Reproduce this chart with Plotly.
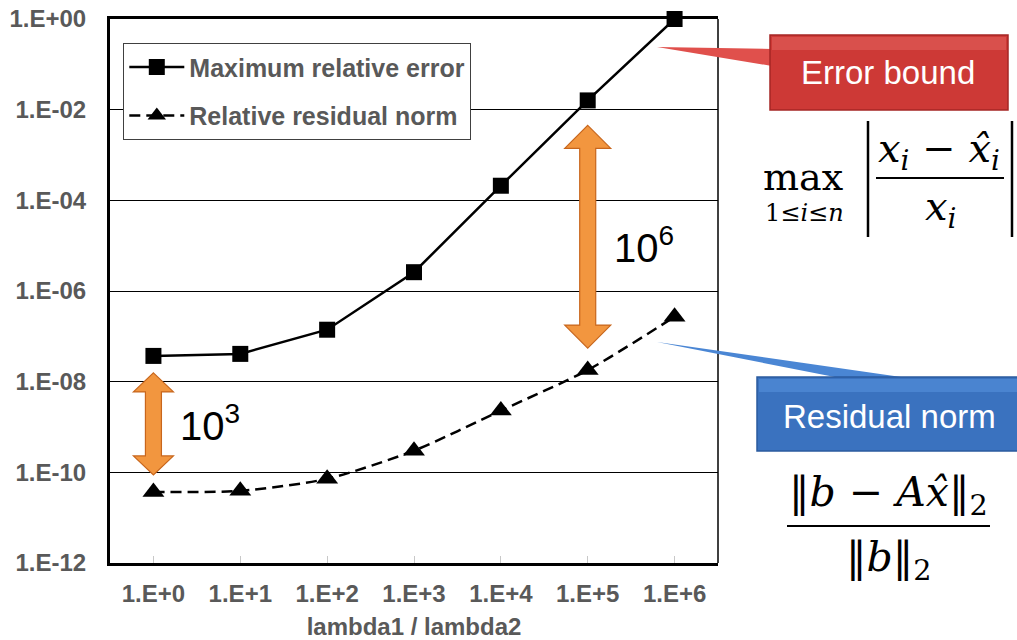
import math
import plotly.graph_objects as go

# ---------------- data ----------------
categories = ["1.E+0", "1.E+1", "1.E+2", "1.E+3", "1.E+4", "1.E+5", "1.E+6"]
max_rel_error = [3.7e-8, 4.1e-8, 1.4e-7, 2.6e-6, 2.1e-4, 1.6e-2, 1.0]
rel_residual = [3.7e-11, 3.9e-11, 7.2e-11, 3.0e-10, 2.3e-9, 1.8e-8, 2.7e-7]
y_tickvals = [1e0, 1e-2, 1e-4, 1e-6, 1e-8, 1e-10, 1e-12]
y_ticktext = ["1.E+00", "1.E-02", "1.E-04", "1.E-06", "1.E-08", "1.E-10", "1.E-12"]
series_names = ["Maximum relative error", "Relative residual norm"]
gap_labels = ["10<sup>3</sup>", "10<sup>6</sup>"]
callout_labels = ["Error bound", "Residual norm"]

# ---------------- layout geometry ----------------
W, H = 1017, 640
L, R, T, B = 110, 299, 19, 77
PW, PH = W - L - R, H - T - B
YMIN, YMAX = -12, 0


def fx(x):  # pixel x -> paper
    return (x - L) / PW


def fy(y):  # pixel y -> paper
    return 1 - (y - T) / PH


def cat_px(i):  # category index -> pixel x
    return L + (i + 0.5) * PW / len(categories)


def val_py(v):  # value -> pixel y (log axis)
    return T + (YMAX - math.log10(v)) / (YMAX - YMIN) * PH


def path(points):
    return "M " + " L ".join(f"{fx(x):.5f},{fy(y):.5f}" for x, y in points) + " Z"


def double_arrow(xc, ytop, ybot, shaft=16, head=42, hlen=22):
    pts = [
        (xc, ytop), (xc + head / 2, ytop + hlen), (xc + shaft / 2, ytop + hlen),
        (xc + shaft / 2, ybot - hlen), (xc + head / 2, ybot - hlen), (xc, ybot),
        (xc - head / 2, ybot - hlen), (xc - shaft / 2, ybot - hlen),
        (xc - shaft / 2, ytop + hlen), (xc - head / 2, ytop + hlen),
    ]
    return path(pts)


GREY = "#595959"
LAB_FONT = dict(family="Liberation Sans, Arial, sans-serif", size=24, color=GREY, weight="bold")
LEG_FONT = dict(family="Liberation Sans, Arial, sans-serif", size=25, color=GREY, weight="bold")

fig = go.Figure()
fig.add_trace(go.Scatter(
    x=categories, y=max_rel_error, mode="lines+markers", name=series_names[0],
    line=dict(color="black", width=2.5),
    marker=dict(symbol="square", size=16, color="black"),
    cliponaxis=False, legendgroup="a",
))
fig.add_trace(go.Scatter(
    x=categories, y=rel_residual, mode="lines+markers", name=series_names[1],
    line=dict(color="black", width=2.5, dash="11px,6px", shape="spline", smoothing=0.7),
    marker=dict(symbol="triangle-up", size=19, color="black"),
    cliponaxis=False, legendgroup="b",
))

shapes = []
# right border (thin)
shapes.append(dict(type="line", xref="paper", yref="paper", x0=1, x1=1, y0=0, y1=1,
                   line=dict(color="black", width=1.5), layer="above"))

ORANGE = "#f2963f"
ORANGE_EDGE = "#c8661c"
i0, i5 = 0, 5
shapes.append(dict(type="path", xref="paper", yref="paper",
                   path=double_arrow(cat_px(i0), val_py(max_rel_error[i0]) + 17,
                                     val_py(rel_residual[i0]) - 17, head=40, hlen=19),
                   fillcolor=ORANGE, line=dict(color=ORANGE_EDGE, width=1.2), layer="above"))
shapes.append(dict(type="path", xref="paper", yref="paper",
                   path=double_arrow(cat_px(i5), val_py(max_rel_error[i5]) + 25,
                                     val_py(rel_residual[i5]) - 22, head=46, hlen=23),
                   fillcolor=ORANGE, line=dict(color=ORANGE_EDGE, width=1.2), layer="above"))

RED = "#cd3936"
RED_TOP = "#d9504c"
RED_EDGE = "#a52624"
BLUE = "#3a72bf"
BLUE_TOP = "#4a84d0"
BLUE_EDGE = "#2b5b9e"
shapes.append(dict(type="path", xref="paper", yref="paper",
                   path=path([(657, 47), (772, 49), (772, 66)]),
                   fillcolor="#e0504c", line=dict(width=0), layer="above"))
shapes.append(dict(type="rect", xref="paper", yref="paper",
                   x0=fx(770), x1=fx(1008), y0=fy(110), y1=fy(35),
                   fillcolor=RED, line=dict(color=RED_EDGE, width=1.5), layer="above"))
shapes.append(dict(type="rect", xref="paper", yref="paper",
                   x0=fx(772), x1=fx(1006), y0=fy(50), y1=fy(37),
                   fillcolor=RED_TOP, line=dict(width=0), layer="above"))
shapes.append(dict(type="path", xref="paper", yref="paper",
                   path=path([(657, 342), (915, 379), (845, 379)]),
                   fillcolor="#4a86d4", line=dict(width=0), layer="above"))
shapes.append(dict(type="rect", xref="paper", yref="paper",
                   x0=fx(757), x1=fx(1030), y0=fy(451), y1=fy(377),
                   fillcolor=BLUE, line=dict(color=BLUE_EDGE, width=1.5), layer="above"))
shapes.append(dict(type="rect", xref="paper", yref="paper",
                   x0=fx(759), x1=fx(1030), y0=fy(392), y1=fy(379),
                   fillcolor=BLUE_TOP, line=dict(width=0), layer="above"))

for xb in (868, 1012):
    shapes.append(dict(type="line", xref="paper", yref="paper", x0=fx(xb), x1=fx(xb),
                       y0=fy(237), y1=fy(121), line=dict(color="black", width=2.5)))
shapes.append(dict(type="line", xref="paper", yref="paper", x0=fx(876), x1=fx(1004),
                   y0=fy(178), y1=fy(178), line=dict(color="black", width=2)))
shapes.append(dict(type="line", xref="paper", yref="paper", x0=fx(787), x1=fx(990),
                   y0=fy(526), y1=fy(526), line=dict(color="black", width=2)))

SERIF = "DejaVu Serif, Liberation Serif, serif"
SANS = "Liberation Sans, Arial, sans-serif"


def note(x, y, text, size, family=SANS, color="black", xanchor="center", yanchor="middle"):
    return dict(x=fx(x), y=fy(y), xref="paper", yref="paper", text=text, showarrow=False,
                xanchor=xanchor, yanchor=yanchor,
                font=dict(family=family, size=size, color=color))


ann = [
    note(178, 423, gap_labels[0], 40, xanchor="left"),
    note(612, 245, gap_labels[1], 40, xanchor="left"),
    note(888, 73, callout_labels[0], 33, color="white"),
    note(889, 416, callout_labels[1], 33, color="white"),
    note(803, 177, "max", 38, family=SERIF),
    note(804, 213, "1≤<i>i</i>≤<i>n</i>", 24, family=SERIF),
    note(939, 151, "<i>x</i><sub><i>i</i></sub> − <i>x̂</i><sub><i>i</i></sub>", 40, family=SERIF),
    note(941, 209, "<i>x</i><sub><i>i</i></sub>", 40, family=SERIF),
    note(888, 495, "‖<i>b</i> − <i>Ax̂</i>‖<sub>2</sub>", 41, family=SERIF),
    note(889, 560, "‖<i>b</i>‖<sub>2</sub>", 41, family=SERIF),
]

fig.update_layout(
    width=W, height=H,
    margin=dict(l=L, r=R, t=T, b=B, autoexpand=False),
    paper_bgcolor="white", plot_bgcolor="white",
    showlegend=True,
    legend=dict(x=fx(123), y=fy(43), xanchor="left", yanchor="top",
                bgcolor="white", bordercolor="#404040", borderwidth=1.3,
                font=LEG_FONT, itemwidth=55, tracegroupgap=13, traceorder="grouped"),
    shapes=shapes, annotations=ann,
    xaxis=dict(type="category", range=[-0.5, len(categories) - 0.5],
               showline=True, linecolor="black", linewidth=3, mirror=True,
               showgrid=False, ticks="inside", ticklen=7, tickcolor="#c8c8c8", tickwidth=1,
               tickfont=LAB_FONT, ticklabelstandoff=7,
               title=dict(text="lambda1 / lambda2", font=LAB_FONT, standoff=15)),
    yaxis=dict(type="log", range=[YMIN, YMAX], tickvals=y_tickvals, ticktext=y_ticktext,
               showline=True, linecolor="black", linewidth=3, mirror=False,
               showgrid=True, gridcolor="black", gridwidth=1.2, zeroline=False,
               ticks="", tickfont=LAB_FONT, ticklabelstandoff=16),
)

fig.write_html("out.html")
